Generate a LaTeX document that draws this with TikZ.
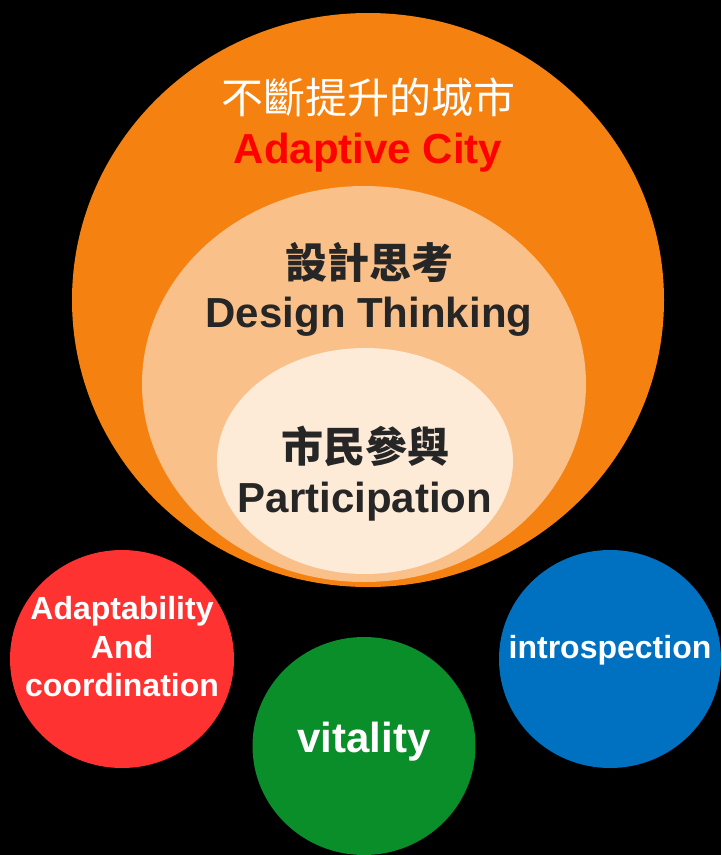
\documentclass[tikz,border=0pt]{standalone}
\usepackage{fontspec}
\setmainfont{Liberation Sans}
\newfontfamily\cjk{Noto Sans CJK TC}
\usetikzlibrary{shapes.geometric}
\definecolor{cityorange}{RGB}{245,130,16}
\definecolor{designpeach}{RGB}{249,192,138}
\definecolor{partcream}{RGB}{253,235,216}
\definecolor{adaptred}{RGB}{255,50,50}
\definecolor{vitalgreen}{RGB}{10,142,42}
\definecolor{introblue}{RGB}{0,112,192}
\definecolor{darktext}{RGB}{38,38,38}
\tikzset{
    every node/.style={inner sep=0pt, outer sep=0pt},
    disc/.style 2 args={ellipse, minimum width=#1pt, minimum height=#2pt}
}
\tikzset{
    zh/.style={font=\cjk\fontsize{42}{42}\selectfont},
    zhbold/.style={font=\cjk\bfseries\fontsize{42}{42}\selectfont, text=darktext},
    en/.style={font=\fontsize{42}{42}\selectfont\bfseries, anchor=base},
    ensmall/.style={font=\fontsize{32}{38.5}\selectfont\bfseries,
    	align=center, text=white}
}

\begin{document}
\begin{tikzpicture}[x=1pt, y=-1pt]
	\path[use as bounding box, fill=black] (0,0) rectangle (721,855);

	\node (city) [disc={592}{574}, fill=cityorange] at (368, 300) {};
	\node (design) [disc={444}{396}, fill=designpeach] at (364, 384) {};
	\node (part) [disc={296}{226}, fill=partcream] at (365, 461) {};
	\node (adapt) [disc={224}{218}, fill=adaptred] at (122, 659) {};
	\node (vital) [disc={223}{218}, fill=vitalgreen] at (364, 746) {};
	\node (intro) [disc={222}{218}, fill=introblue] at (610, 659) {};

	\node (cityzh) [zh, text=white] at (368, 97) {不斷提升的城市};
	\node (cityen) [en, text=red] at (368, 163) {Adaptive City};
	\node (designzh) [zhbold] at (369, 262) {設計思考};
	\node (designen) [en, text=darktext] at (369, 327) {Design Thinking};
	\node (partzh) [zhbold] at (365, 446) {市民參與};
	\node (parten) [en, text=darktext] at (365, 512) {Participation};

	\node (adapttext) [ensmall] at (122, 647) {Adaptability\\And\\coordination};
	\node (vitaltext) [en, text=white] at (364, 752) {vitality};
	\node (introtext) [ensmall, anchor=base] at (610, 658) {introspection};
\end{tikzpicture}
\end{document}
